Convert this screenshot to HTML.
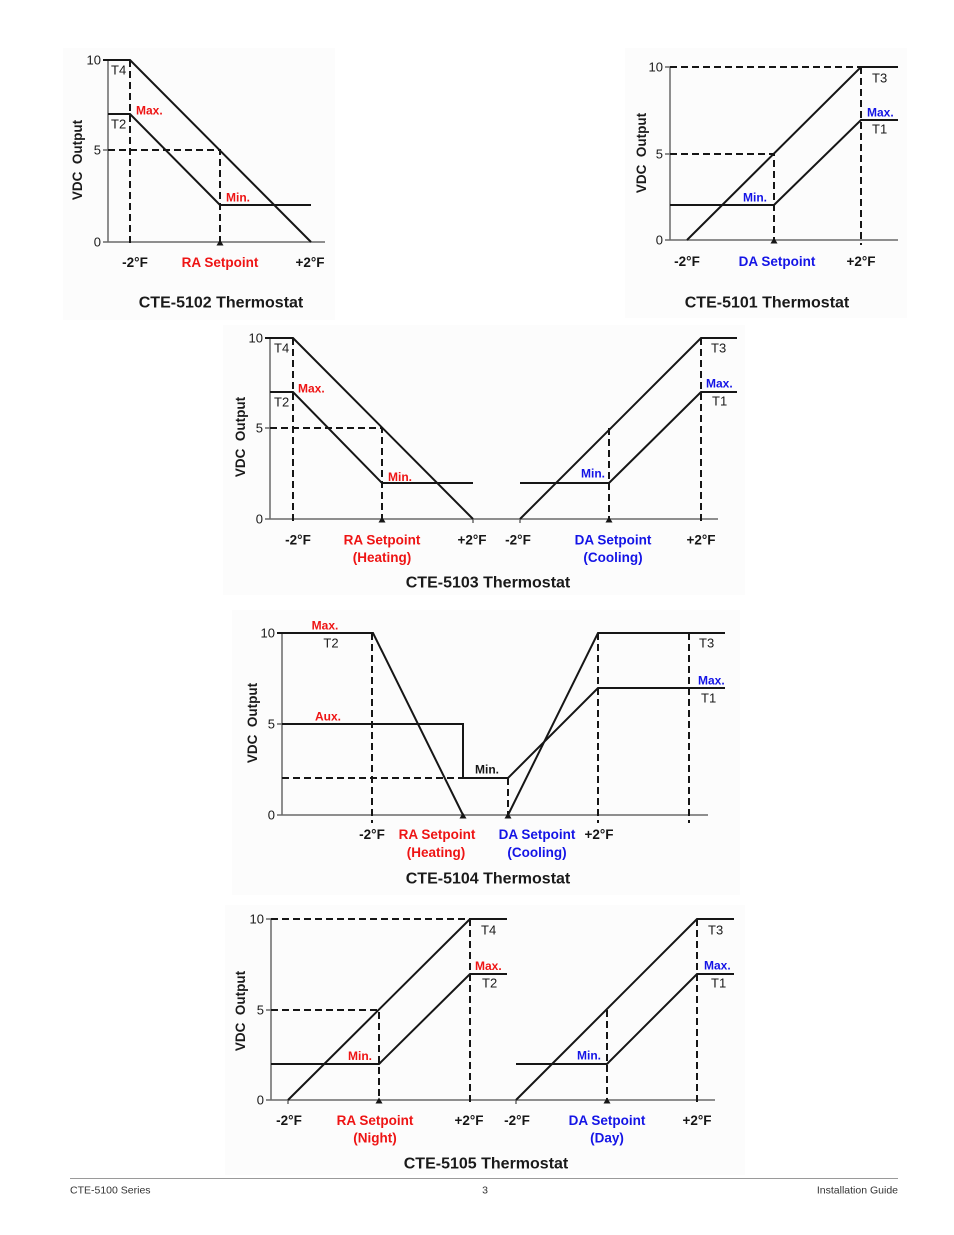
<!DOCTYPE html>
<html>
<head>
<meta charset="utf-8">
<style>
  html,body{margin:0;padding:0;background:#fff;}
  svg{display:block;}
  text{font-family:"Liberation Sans",Arial,sans-serif;}
  .ax{stroke:#6a6a6a;stroke-width:1.5;fill:none;}
  .ln{stroke:#161616;stroke-width:2;fill:none;stroke-linejoin:miter;}
  .ds{stroke:#161616;stroke-width:2;fill:none;stroke-dasharray:7 4;}
  .tk{font-size:13px;fill:#1a1a1a;text-anchor:end;}
  .tl{font-size:13px;fill:#1a1a1a;}
  .mx{font-size:12px;font-weight:bold;}
  .r{fill:#ee1414;}
  .b{fill:#1414e6;}
  .k{fill:#161616;}
  .xl{font-size:13.5px;font-weight:bold;text-anchor:middle;}
  .tt{font-size:16px;font-weight:bold;fill:#1a1a1a;text-anchor:middle;}
  .vd{font-size:13.5px;font-weight:bold;fill:#1a1a1a;text-anchor:middle;white-space:pre;}
  .ft{font-size:10.5px;fill:#333;}
</style>
</head>
<body>
<svg width="954" height="1235" viewBox="0 0 954 1235" xmlns="http://www.w3.org/2000/svg">
  <!-- faint backgrounds -->
  <rect x="63" y="48" width="272" height="272" fill="#fcfcfc"/>
  <rect x="625" y="48" width="282" height="270" fill="#fcfcfc"/>
  <rect x="223" y="325" width="522" height="270" fill="#fcfcfc"/>
  <rect x="232" y="610" width="508" height="285" fill="#fcfcfc"/>
  <rect x="225" y="905" width="520" height="270" fill="#fcfcfc"/>

  <!-- ================= Diagram 1: CTE-5102 ================= -->
  <path class="ax" d="M108,60 V242 H325 M103,60 H108 M103,150 H108 M103,242 H108"/>
  <text class="tk" x="101" y="64.7">10</text>
  <text class="tk" x="101" y="154.7">5</text>
  <text class="tk" x="101" y="246.7">0</text>
  <path class="ln" d="M103,60 H130 L311,242"/>
  <path class="ln" d="M108,114 H130 L220,205 H311"/>
  <path class="ds" d="M130,60 V246"/>
  <path class="ds" d="M108,150 H220 V242"/>
  <polygon points="216.5,245.5 223.5,245.5 220,239.5" fill="#161616"/>
  <text class="tl" x="111" y="74.5">T4</text>
  <text class="tl" x="111" y="128.5">T2</text>
  <text class="mx r" x="136" y="114.3">Max.</text>
  <text class="mx r" x="226" y="201.3">Min.</text>
  <text class="xl k" x="135" y="267">-2°F</text>
  <text class="xl r" x="220" y="267">RA Setpoint</text>
  <text class="xl k" x="310" y="267">+2°F</text>
  <text class="tt" x="221" y="307.5">CTE-5102 Thermostat</text>
  <text class="vd" transform="translate(77,160) rotate(-90)" x="0" y="4.9">VDC  Output</text>

  <!-- ================= Diagram 2: CTE-5101 ================= -->
  <path class="ax" d="M670,67 V240 H898 M665,67 H670 M665,154 H670 M665,240 H670"/>
  <text class="tk" x="663" y="71.7">10</text>
  <text class="tk" x="663" y="158.7">5</text>
  <text class="tk" x="663" y="244.7">0</text>
  <path class="ds" d="M670,67 H861"/>
  <path class="ds" d="M861,67 V245"/>
  <path class="ds" d="M670,154 H774 V240"/>
  <path class="ln" d="M687,240 L861,67 H898"/>
  <path class="ln" d="M670,205 H774 L861,120 H898"/>
  <polygon points="770.5,243.5 777.5,243.5 774,237.5" fill="#161616"/>
  <text class="tl" x="872" y="82.5">T3</text>
  <text class="mx b" x="867" y="116.3">Max.</text>
  <text class="tl" x="872" y="133.5">T1</text>
  <text class="mx b" x="767" y="201.3" text-anchor="end">Min.</text>
  <text class="xl k" x="687" y="266">-2°F</text>
  <text class="xl b" x="777" y="266">DA Setpoint</text>
  <text class="xl k" x="861" y="266">+2°F</text>
  <text class="tt" x="767" y="307.5">CTE-5101 Thermostat</text>
  <text class="vd" transform="translate(641,153) rotate(-90)" x="0" y="4.9">VDC  Output</text>

  <!-- ================= Diagram 3: CTE-5103 ================= -->
  <path class="ax" d="M270,338 V519 H718 M265,338 H270 M265,428 H270 M265,519 H270 M473,519 V523 M520,519 V523"/>
  <text class="tk" x="263" y="342.7">10</text>
  <text class="tk" x="263" y="432.7">5</text>
  <text class="tk" x="263" y="523.7">0</text>
  <path class="ln" d="M265,338 H293 L473,519"/>
  <path class="ln" d="M270,392 H293 L382,483 H473"/>
  <path class="ds" d="M293,338 V525"/>
  <path class="ds" d="M270,428 H382 V519"/>
  <polygon points="378.5,522.5 385.5,522.5 382,516.5" fill="#161616"/>
  <path class="ln" d="M520,519 L701,338 H737"/>
  <path class="ln" d="M520,483 H609 L701,392 H737"/>
  <path class="ds" d="M609,428 V519"/>
  <path class="ds" d="M701,338 V525"/>
  <polygon points="605.5,522.5 612.5,522.5 609,516.5" fill="#161616"/>
  <text class="tl" x="274" y="352.5">T4</text>
  <text class="tl" x="274" y="406.5">T2</text>
  <text class="mx r" x="298" y="392.3">Max.</text>
  <text class="mx r" x="388" y="481">Min.</text>
  <text class="tl" x="711" y="352.5">T3</text>
  <text class="mx b" x="706" y="387.3">Max.</text>
  <text class="tl" x="712" y="405.5">T1</text>
  <text class="mx b" x="605" y="477.3" text-anchor="end">Min.</text>
  <text class="xl k" x="298" y="544.5">-2°F</text>
  <text class="xl r" x="382" y="544.5">RA Setpoint</text>
  <text class="xl r" x="382" y="562">(Heating)</text>
  <text class="xl k" x="472" y="544.5">+2°F</text>
  <text class="xl k" x="518" y="544.5">-2°F</text>
  <text class="xl b" x="613" y="544.5">DA Setpoint</text>
  <text class="xl b" x="613" y="562">(Cooling)</text>
  <text class="xl k" x="701" y="544.5">+2°F</text>
  <text class="tt" x="488" y="587.5">CTE-5103 Thermostat</text>
  <text class="vd" transform="translate(240,437) rotate(-90)" x="0" y="4.9">VDC  Output</text>

  <!-- ================= Diagram 4: CTE-5104 ================= -->
  <path class="ax" d="M282,633 V815 H708 M277,633 H282 M277,724 H282 M277,815 H282"/>
  <text class="tk" x="275" y="637.7">10</text>
  <text class="tk" x="275" y="728.7">5</text>
  <text class="tk" x="275" y="819.7">0</text>
  <path class="ln" d="M277,633 H373 L463,815"/>
  <path class="ln" d="M282,724 H463 V778 H508 L598,688 H725"/>
  <path class="ln" d="M508,815 L598,633 H725"/>
  <path class="ds" d="M372,633 V823"/>
  <path class="ds" d="M282,778 H463"/>
  <path class="ds" d="M508,778 V815"/>
  <path class="ds" d="M598,633 V823"/>
  <path class="ds" d="M689,633 V823"/>
  <polygon points="459.5,818.5 466.5,818.5 463,812.5" fill="#161616"/>
  <polygon points="504.5,818.5 511.5,818.5 508,812.5" fill="#161616"/>
  <text class="mx r" x="325" y="629.3" text-anchor="middle">Max.</text>
  <text class="tl" x="331" y="647.5" text-anchor="middle">T2</text>
  <text class="mx r" x="328" y="720.3" text-anchor="middle">Aux.</text>
  <text class="mx k" x="487" y="773.3" text-anchor="middle">Min.</text>
  <text class="tl" x="699" y="647.5">T3</text>
  <text class="mx b" x="698" y="684.3">Max.</text>
  <text class="tl" x="701" y="702.5">T1</text>
  <text class="xl k" x="372" y="839">-2°F</text>
  <text class="xl r" x="437" y="839">RA Setpoint</text>
  <text class="xl r" x="436" y="857">(Heating)</text>
  <text class="xl b" x="537" y="839">DA Setpoint</text>
  <text class="xl b" x="537" y="857">(Cooling)</text>
  <text class="xl k" x="599" y="839">+2°F</text>
  <text class="tt" x="488" y="883.5">CTE-5104 Thermostat</text>
  <text class="vd" transform="translate(252,723) rotate(-90)" x="0" y="4.9">VDC  Output</text>

  <!-- ================= Diagram 5: CTE-5105 ================= -->
  <path class="ax" d="M271,919 V1100 H715 M266,919 H271 M266,1010 H271 M266,1100 H271 M288,1100 V1104 M516,1100 V1104"/>
  <text class="tk" x="264" y="923.7">10</text>
  <text class="tk" x="264" y="1014.7">5</text>
  <text class="tk" x="264" y="1104.7">0</text>
  <path class="ds" d="M271,919 H470"/>
  <path class="ds" d="M470,919 V1105"/>
  <path class="ds" d="M271,1010 H379 V1100"/>
  <path class="ln" d="M288,1100 L470,919 H507"/>
  <path class="ln" d="M271,1064 H379 L470,974 H507"/>
  <polygon points="375.5,1103.5 382.5,1103.5 379,1097.5" fill="#161616"/>
  <path class="ln" d="M516,1100 L697,919 H734"/>
  <path class="ln" d="M516,1064 H607 L697,974 H734"/>
  <path class="ds" d="M607,1010 V1100"/>
  <path class="ds" d="M697,919 V1105"/>
  <polygon points="603.5,1103.5 610.5,1103.5 607,1097.5" fill="#161616"/>
  <text class="tl" x="481" y="934.5">T4</text>
  <text class="mx r" x="475" y="970">Max.</text>
  <text class="tl" x="482" y="987.5">T2</text>
  <text class="mx r" x="372" y="1060" text-anchor="end">Min.</text>
  <text class="tl" x="708" y="934.5">T3</text>
  <text class="mx b" x="704" y="969.5">Max.</text>
  <text class="tl" x="711" y="987.5">T1</text>
  <text class="mx b" x="601" y="1059.5" text-anchor="end">Min.</text>
  <text class="xl k" x="289" y="1125">-2°F</text>
  <text class="xl r" x="375" y="1125">RA Setpoint</text>
  <text class="xl r" x="375" y="1142.5">(Night)</text>
  <text class="xl k" x="469" y="1125">+2°F</text>
  <text class="xl k" x="517" y="1125">-2°F</text>
  <text class="xl b" x="607" y="1125">DA Setpoint</text>
  <text class="xl b" x="607" y="1142.5">(Day)</text>
  <text class="xl k" x="697" y="1125">+2°F</text>
  <text class="tt" x="486" y="1168.5">CTE-5105 Thermostat</text>
  <text class="vd" transform="translate(240,1011) rotate(-90)" x="0" y="4.9">VDC  Output</text>

  <!-- ================= Footer ================= -->
  <line x1="70" y1="1178.5" x2="898" y2="1178.5" stroke="#9a9a9a" stroke-width="1"/>
  <text class="ft" x="70" y="1193.5">CTE-5100 Series</text>
  <text class="ft" x="485" y="1193.5" text-anchor="middle">3</text>
  <text class="ft" x="898" y="1193.5" text-anchor="end">Installation Guide</text>
</svg>
</body>
</html>
